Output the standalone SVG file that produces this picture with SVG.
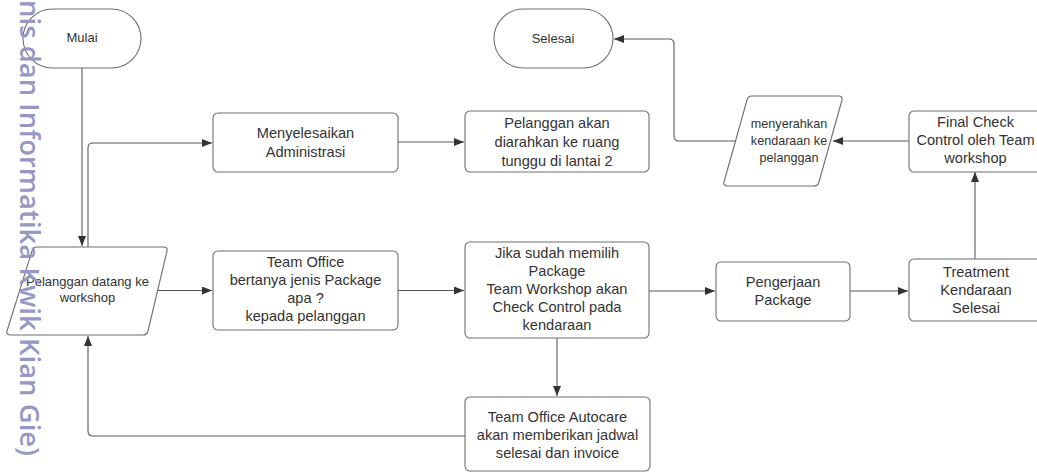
<svg xmlns="http://www.w3.org/2000/svg" width="1037" height="472" viewBox="0 0 1037 472">
<style>
.box{fill:#fff;stroke:#6e6e6e;stroke-width:1.1}
.t{font-family:"Liberation Sans",Arial,sans-serif;font-size:14.6px;fill:#333;text-anchor:middle}
.ts{font-size:13px}
.tp{font-size:12.6px}
.c{fill:none;stroke:#5a5a5a;stroke-width:1.1;marker-end:url(#ah)}
.wm{font-family:"Open Sans","DejaVu Sans",sans-serif;font-weight:600;font-size:27.5px;fill:#9797c4}
</style>
<defs>
<marker id="ah" viewBox="0 0 10 8" refX="10" refY="4" markerWidth="10" markerHeight="8" markerUnits="userSpaceOnUse" orient="auto">
<path d="M0,0 L10,4 L0,8 Z" fill="#333"/>
</marker>
</defs>
<rect width="1037" height="472" fill="#fff"/>
<g id="connectors">
<path class="c" d="M82,68 V246"/>
<path class="c" d="M88,247 V148 Q88,143 93,143 H212"/>
<path class="c" d="M398,142 H464"/>
<path class="c" d="M157,290.5 H212"/>
<path class="c" d="M398,290.5 H464"/>
<path class="c" d="M649,291 H715"/>
<path class="c" d="M850,291 H908"/>
<path class="c" d="M975,259 V172"/>
<path class="c" d="M909,141 H833"/>
<path class="c" d="M737,141 H679 Q674,141 674,136 V44 Q674,39 669,39 H614"/>
<path class="c" d="M557,338 V396"/>
<path class="c" d="M465,436 H93 Q88,436 88,431 V336"/>
</g>
<g id="mulai">
<rect class="box" x="23" y="9" width="118" height="59" rx="29.5"/>
<text class="t ts" x="82" y="42">Mulai</text>
</g>
<g id="selesai">
<rect class="box" x="494" y="9" width="119" height="59" rx="29.5"/>
<text class="t ts" x="553" y="43">Selesai</text>
</g>
<g id="menyelesaikan">
<rect class="box" x="213" y="113" width="185" height="59" rx="5"/>
<text class="t" x="305.5" y="138">Menyelesaikan</text>
<text class="t" x="305.5" y="157">Administrasi</text>
</g>
<g id="ruang-tunggu">
<rect class="box" x="465" y="111" width="184" height="61" rx="5"/>
<text class="t" x="557" y="128">Pelanggan akan</text>
<text class="t" x="557" y="147">diarahkan ke ruang</text>
<text class="t" x="557" y="166">tunggu di lantai 2</text>
</g>
<g id="pelanggan-datang">
<path class="box" d="M37,247 H163 Q168,247 167,251 L148,331 Q147,335 143,335 H11 Q6,335 7,331 L32,251 Q33,247 37,247 Z"/>
<text class="t ts" x="87.5" y="286">Pelanggan datang ke</text>
<text class="t ts" x="87.5" y="302">workshop</text>
</g>
<g id="team-office">
<rect class="box" x="213" y="251" width="185" height="79" rx="5"/>
<text class="t" x="305.5" y="267">Team Office</text>
<text class="t" x="305.5" y="285">bertanya jenis Package</text>
<text class="t" x="305.5" y="303">apa ?</text>
<text class="t" x="305.5" y="321">kepada pelanggan</text>
</g>
<g id="check-control">
<rect class="box" x="465" y="242" width="184" height="96" rx="5"/>
<text class="t" x="557" y="258">Jika sudah memilih</text>
<text class="t" x="557" y="276">Package</text>
<text class="t" x="557" y="294">Team Workshop akan</text>
<text class="t" x="557" y="312">Check Control pada</text>
<text class="t" x="557" y="330">kendaraan</text>
</g>
<g id="pengerjaan">
<rect class="box" x="716" y="262" width="134" height="59" rx="5"/>
<text class="t" x="783" y="287">Pengerjaan</text>
<text class="t" x="783" y="305">Package</text>
</g>
<g id="treatment">
<rect class="box" x="909" y="259" width="134" height="62" rx="5"/>
<text class="t" x="976" y="277">Treatment</text>
<text class="t" x="976" y="295">Kendaraan</text>
<text class="t" x="976" y="313">Selesai</text>
</g>
<g id="final-check">
<rect class="box" x="909" y="111" width="134" height="61" rx="5"/>
<text class="t" x="975.5" y="127">Final Check</text>
<text class="t" x="975.5" y="145">Control oleh Team</text>
<text class="t" x="975.5" y="163">workshop</text>
</g>
<g id="menyerahkan">
<path class="box" d="M752,96 H838 Q843,96 842,100 L819,182 Q818,186 814,186 H728 Q723,186 724,182 L747,100 Q748,96 752,96 Z"/>
<text class="t tp" x="789" y="128">menyerahkan</text>
<text class="t tp" x="789" y="145">kendaraan ke</text>
<text class="t tp" x="789" y="162">pelanggan</text>
</g>
<g id="autocare">
<rect class="box" x="465" y="397" width="185" height="74" rx="5"/>
<text class="t" x="557.5" y="422">Team Office Autocare</text>
<text class="t" x="557.5" y="440">akan memberikan jadwal</text>
<text class="t" x="557.5" y="458">selesai dan invoice</text>
</g>
<text class="wm" transform="translate(20,0) rotate(90)" x="0" y="0">nis dan Informatika Kwik Kian Gie)</text>
</svg>
